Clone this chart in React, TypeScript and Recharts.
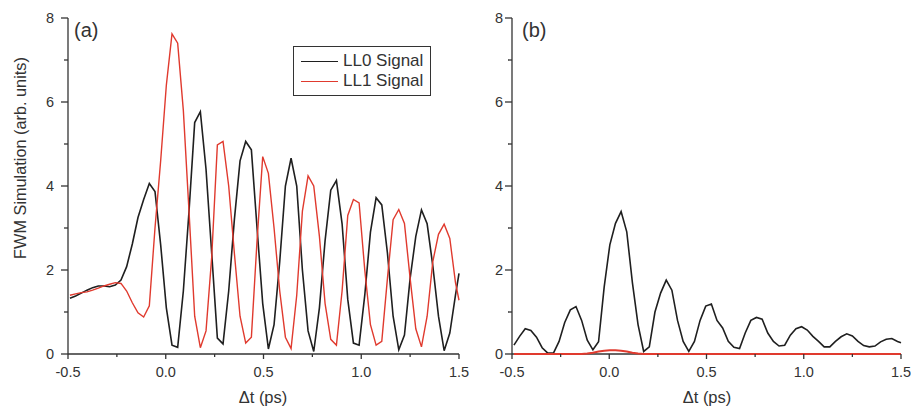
import { LineChart, Line, XAxis, YAxis, Label } from 'recharts';

// delay grid (ps)
const dt = [
  -0.49, -0.461, -0.432, -0.403, -0.374, -0.345, -0.316, -0.287, -0.258, -0.229,
  -0.2, -0.171, -0.142, -0.113, -0.084, -0.055, -0.026, 0.003, 0.032, 0.061,
  0.09, 0.119, 0.148, 0.177, 0.206, 0.235, 0.264, 0.293, 0.322, 0.351,
  0.38, 0.409, 0.438, 0.467, 0.496, 0.525, 0.554, 0.583, 0.612, 0.641,
  0.67, 0.699, 0.728, 0.757, 0.786, 0.815, 0.844, 0.873, 0.902, 0.931,
  0.96, 0.989, 1.018, 1.047, 1.076, 1.105, 1.134, 1.163, 1.192, 1.221,
  1.25, 1.279, 1.308, 1.337, 1.366, 1.395, 1.424, 1.453, 1.482, 1.5,
];

// panel (a)
const ll0A = [
  1.33, 1.38, 1.45, 1.52, 1.58, 1.62, 1.62, 1.6, 1.64, 1.76,
  2.08, 2.62, 3.25, 3.68, 4.06, 3.87, 2.6, 1.1, 0.21, 0.16,
  1.5, 3.4, 5.51, 5.77, 4.4, 2.4, 0.38, 0.24, 1.5, 3.2,
  4.6, 5.06, 4.86, 3.0, 1.2, 0.12, 0.7, 2.2, 4.0, 4.66,
  4.0, 2.0, 0.55, 0.06, 1.1, 2.7, 3.9, 4.13, 3.1, 1.3,
  0.26, 0.21, 1.4, 2.9, 3.72, 3.55, 2.4, 0.9, 0.1, 0.45,
  1.8, 2.8, 3.43, 3.1, 2.1, 0.9, 0.08, 0.5, 1.4, 1.92,
];
const ll1A = [
  1.4, 1.43, 1.46, 1.48, 1.52, 1.57, 1.62, 1.66, 1.7, 1.68,
  1.5, 1.22, 0.98, 0.88, 1.15, 3.0, 4.6, 6.4, 7.62, 7.4,
  5.8, 3.4, 0.9, 0.15, 0.55, 2.3, 4.98, 5.06, 4.0, 2.4,
  0.9, 0.26, 0.4, 2.7, 4.7, 4.3, 3.0, 1.5, 0.4, 0.13,
  1.4, 3.4, 4.24, 4.0, 2.8, 1.2, 0.35, 0.21, 1.5, 3.3,
  3.68, 3.6, 2.0, 0.7, 0.21, 0.3, 1.8, 3.2, 3.44, 3.11,
  1.8, 0.6, 0.17, 0.9, 2.2, 2.85, 3.09, 2.75, 1.7, 1.28,
];

// panel (b)
const ll0B = [
  0.21, 0.42, 0.6, 0.56, 0.4, 0.15, 0.02, 0.02, 0.3, 0.75,
  1.05, 1.13, 0.8, 0.33, 0.1, 0.29, 1.6, 2.6, 3.11, 3.39,
  2.91, 1.7, 0.7, 0.06, 0.17, 1.0, 1.45, 1.76, 1.52, 0.8,
  0.3, 0.06, 0.3, 0.8, 1.14, 1.19, 0.8, 0.62, 0.3, 0.16,
  0.13, 0.5, 0.8, 0.87, 0.83, 0.5, 0.3, 0.19, 0.21, 0.45,
  0.6, 0.65, 0.57, 0.42, 0.3, 0.17, 0.17, 0.3, 0.41, 0.48,
  0.43, 0.3, 0.2, 0.17, 0.19, 0.29, 0.35, 0.37, 0.3, 0.27,
];
const ll1B = [
  0, 0, 0, 0, 0, 0, 0, 0, 0, 0,
  0, 0, 0, 0.01, 0.03, 0.06, 0.08, 0.09, 0.09, 0.08,
  0.06, 0.03, 0.01, 0, 0, 0, 0, 0, 0, 0,
  0, 0, 0, 0, 0, 0, 0, 0, 0, 0,
  0, 0, 0, 0, 0, 0, 0, 0, 0, 0,
  0, 0, 0, 0, 0, 0, 0, 0, 0, 0,
  0, 0, 0, 0, 0, 0, 0, 0, 0, 0,
];

const yTicks = [0, 1, 2, 3, 4, 5, 6, 7, 8];
const xTicks = [-0.5, -0.25, 0, 0.25, 0.5, 0.75, 1, 1.25, 1.5];

const FONT = '"Liberation Sans", Arial, Helvetica, sans-serif';
const INK = '#333';
const BLACK = '#1f1f1f';
const RED = '#e03a2e';
const AXIS_Y = 354;

const rows = dt.map((t, i) => ({ t, a0: ll0A[i], a1: ll1A[i], b0: ll0B[i], b1: ll1B[i] }));

const makeYTick = (axisX: number, gap: number) => (props: any) => {
  const { y, payload } = props;
  const v = payload.value;
  const major = v % 2 === 0;
  return (
    <g>
      <line x1={axisX - (major ? 7 : 4)} x2={axisX} y1={y} y2={y} stroke={INK} strokeWidth={1.3} />
      {major && (
        <text x={axisX - gap} y={y} dy="0.36em" textAnchor="end" fill={INK} fontSize={14.5} fontFamily={FONT}>
          {v}
        </text>
      )}
    </g>
  );
};

const XTick = (props: any) => {
  const { x, payload } = props;
  const v = payload.value;
  const major = Math.abs(v * 2 - Math.round(v * 2)) < 1e-6;
  return (
    <g>
      <line x1={x} x2={x} y1={AXIS_Y} y2={AXIS_Y + (major ? 5 : 3)} stroke={INK} strokeWidth={1.3} />
      {major && (
        <text x={x} y={372} dy="0.36em" textAnchor="middle" fill={INK} fontSize={14.5} fontFamily={FONT}>
          {v.toFixed(1)}
        </text>
      )}
    </g>
  );
};

const xLabel = (cx: number) => () => (
  <text x={cx} y={397} dy="0.35em" textAnchor="middle" fill={INK} fontSize={16.5} fontFamily={FONT}>
    Δt (ps)
  </text>
);

const yLabel = () => (
  <text transform="translate(20,158) rotate(-90)" textAnchor="middle" dy="0.35em" fill={INK} fontSize={16.3} fontFamily={FONT}>
    FWM Simulation (arb. units)
  </text>
);

const Panel = ({ width, yw, gap, right, k0, k1, redWidth, xc, withYLabel }: any) => (
  <LineChart width={width} height={407} data={rows} margin={{ top: 18, right, bottom: 0, left: 0 }}>
    <XAxis
      type="number"
      dataKey="t"
      domain={[-0.5, 1.5]}
      ticks={xTicks}
      interval={0}
      height={53}
      stroke={INK}
      strokeWidth={1.3}
      tickLine={false}
      tick={XTick}
    >
      <Label content={xLabel(xc)} />
    </XAxis>
    <YAxis
      type="number"
      domain={[0, 8]}
      ticks={yTicks}
      interval={0}
      width={yw}
      stroke={INK}
      strokeWidth={1.3}
      tickLine={false}
      tick={makeYTick(yw, gap)}
    >
      {withYLabel && <Label content={yLabel} />}
    </YAxis>
    <Line type="linear" dataKey={k0} stroke={BLACK} strokeWidth={1.6} dot={false} isAnimationActive={false} zIndex={700} />
    <Line type="linear" dataKey={k1} stroke={RED} strokeWidth={redWidth} dot={false} isAnimationActive={false} zIndex={800} />
  </LineChart>
);

export default function App() {
  return (
    <div style={{ position: 'absolute', left: 0, top: 0, width: 911, height: 407, background: '#fff', fontFamily: FONT, color: INK }}>
      <div style={{ position: 'absolute', left: 0, top: 0 }}>
        <Panel width={480} yw={68} gap={14} right={21} k0="a0" k1="a1" redWidth={1.4} xc={263} withYLabel />
      </div>
      <div style={{ position: 'absolute', left: 460, top: 0 }}>
        <Panel width={451} yw={52} gap={9} right={10} k0="b0" k1="b1" redWidth={2} xc={247} withYLabel={false} />
      </div>
      <div style={{ position: 'absolute', left: 74, top: 18, fontSize: 20, lineHeight: '24px' }}>(a)</div>
      <div style={{ position: 'absolute', left: 522, top: 18, fontSize: 20, lineHeight: '24px' }}>(b)</div>
      <div
        style={{
          position: 'absolute',
          left: 293,
          top: 46,
          width: 136,
          height: 48,
          border: `1.5px solid ${INK}`,
          background: '#fff',
          fontSize: 17,
        }}
      >
        {[
          { name: 'LL0 Signal', color: BLACK },
          { name: 'LL1 Signal', color: RED },
        ].map((it, i) => (
          <div key={it.name} style={{ position: 'absolute', left: 7, top: 4 + i * 20, height: 20, display: 'flex', alignItems: 'center', whiteSpace: 'nowrap' }}>
            <span style={{ display: 'inline-block', width: 37, height: 0, borderTop: `1.6px solid ${it.color}`, marginRight: 5 }} />
            <span>{it.name}</span>
          </div>
        ))}
      </div>
    </div>
  );
}
